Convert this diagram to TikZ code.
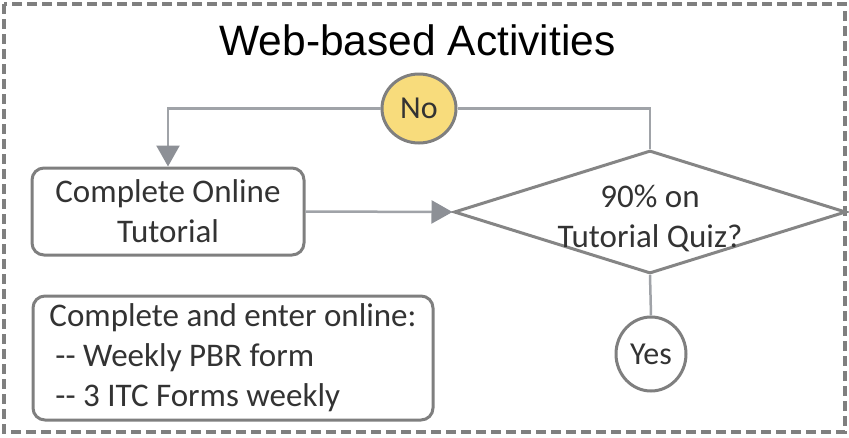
\documentclass[tikz,border=0pt]{standalone}
\usepackage{fontspec}
\setmainfont{Carlito}
\newfontfamily\titlefont{Liberation Sans}
\usetikzlibrary{arrows.meta,shapes.geometric}
\definecolor{framegray}{HTML}{7F7F7F}
\definecolor{boxgray}{HTML}{7F7F7F}
\definecolor{linegray}{HTML}{A0A3A8}
\definecolor{tipgray}{HTML}{8D9096}
\definecolor{nofill}{HTML}{F8DC7C}
\definecolor{txt}{HTML}{333333}
\tikzset{
  frame/.style={draw=framegray,line width=3.5pt,dash pattern=on 10pt off 5pt},
  stepbox/.style={draw=boxgray,line width=3pt,rounded corners=12pt,fill=white,text=txt,
    font=\fontsize{33}{40}\selectfont,inner sep=0pt},
  choice/.style={ellipse,draw=boxgray,line width=3pt,inner sep=0pt,text=txt,
    font=\fontsize{32}{38}\selectfont},
  decision/.style={diamond,draw=boxgray!95!white,line width=3pt,inner sep=0pt,
    minimum width=392pt,minimum height=123pt,aspect=3.19},
  conn/.style={draw=linegray,line width=2.5pt},
  arr/.style={conn,-{Triangle[width=23pt,length=21pt,color=tipgray]}}
}
\begin{document}
\begin{tikzpicture}[x=1pt,y=-1pt]
\useasboundingbox (0,0) rectangle (849,437);
\draw[frame] (4,4) rectangle (845,432);
\node[anchor=base,font=\titlefont\fontsize{42.5}{48}\selectfont,text=black] (title) at (417.5,55) {Web-based Activities};
\node[choice,fill=nofill,minimum width=74pt,minimum height=69pt] (no) at (419,108.5) {No};
\node[stepbox,minimum width=272pt,minimum height=87pt,align=center] (tut) at (168,211.5) {Complete Online\\Tutorial};
\node[decision] (d) at (650,212) {};
\node[text=txt,font=\fontsize{33}{40}\selectfont,align=center,inner sep=0pt] (dtext) at (650,218) {90\% on\\Tutorial Quiz?};
\node[choice,fill=white,minimum width=70pt,minimum height=74pt] (yes) at (651,354) {Yes};
\node[stepbox,minimum width=400pt,minimum height=124pt,align=left] (forms) at (233,358)
  {Complete and enter online:\\\hspace{6pt}{-}{-} Weekly PBR form\\\hspace{6pt}{-}{-} 3 ITC Forms weekly};
\draw[arr] (no.west) -| (tut.north);
\draw[conn] (no.east) -| (d.north);
\draw[arr] (tut.east) -- (d.west);
\draw[conn] (d.south) -- (yes.north);
\end{tikzpicture}
\end{document}
